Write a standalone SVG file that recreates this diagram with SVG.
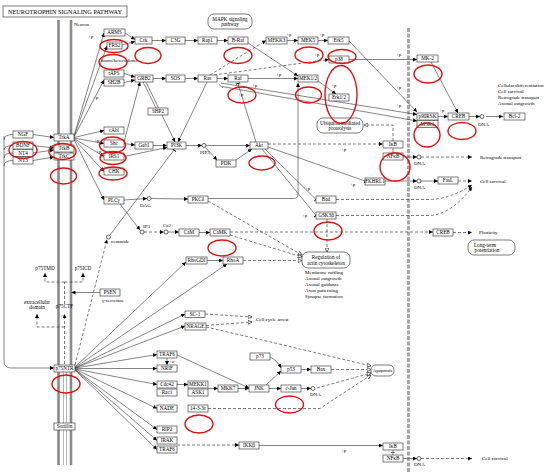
<svg xmlns="http://www.w3.org/2000/svg" width="550" height="473" viewBox="0 0 550 473">
<defs>
<marker id="a" viewBox="0 0 6 6" refX="6" refY="3" markerWidth="4" markerHeight="4" orient="auto" markerUnits="userSpaceOnUse"><path d="M0,0L6,3L0,6z" fill="#000"/></marker>
<marker id="o" viewBox="0 0 8 8" refX="7.5" refY="4" markerWidth="4.5" markerHeight="4.5" orient="auto" markerUnits="userSpaceOnUse"><path d="M0.5,0.5L7.5,4L0.5,7.5z" fill="#fff" stroke="#000" stroke-width="1"/></marker>
<marker id="b" viewBox="0 0 2 8" refX="1" refY="4" markerWidth="1.5" markerHeight="5" orient="auto" markerUnits="userSpaceOnUse"><path d="M1,0L1,8" stroke="#000" stroke-width="1.5"/></marker>
</defs>
<style>
.n rect{fill:#fff;stroke:#444;stroke-width:0.7}
.n text,.t{font-family:"Liberation Serif",serif;font-size:5.2px;text-anchor:middle;fill:#000}
.l{font-family:"Liberation Serif",serif;font-size:5px;fill:#000}
.c path{fill:none;stroke:#333;stroke-width:0.6}
.c .d{stroke-dasharray:3 2;stroke:#444;stroke-width:0.7}
.a{marker-end:url(#a)}
.o{marker-end:url(#o)}
.b{marker-end:url(#b)}
.r ellipse{fill:none;stroke:#e01010;stroke-width:1.4}
.cir{fill:#fff;stroke:#000;stroke-width:0.6}
</style>
<rect width="550" height="473" fill="#fff"/>
<!-- title -->
<g id="title"><rect x="3" y="6" width="124" height="11" fill="#fff" stroke="#444" stroke-width="0.7"/><text x="65" y="14.3" font-family="Liberation Serif,serif" font-size="6.8" text-anchor="middle" textLength="114" lengthAdjust="spacingAndGlyphs">NEUROTROPHIN SIGNALING PATHWAY</text></g>
<!-- membranes -->
<g id="membrane">
<path d="M58.5,20V465M71,20V465" stroke="#8a8a8a" stroke-width="2.6" fill="none"/>
<path d="M63.5,372V465M66.5,372V465" stroke="#666" stroke-width="0.5" fill="none"/>
<path d="M408.5,28V472" stroke="#a8a8a8" stroke-width="3" stroke-dasharray="4 1.5" fill="none"/>
<text class="l" x="74" y="26">Neuron</text>
</g>
<!-- connectors -->
<g id="connectors" class="c">
<path d="M13,134.5Q4,134.5 4,140M13,145.5Q4,145.5 4,150M13,153Q4,153 4,158M13,160.5Q4,160.5 4,166"/>
<path class="a" d="M4,136V361Q4,368 11,368H54"/>
<path class="a" d="M33,134.5L54,137.5"/>
<path class="a" d="M33,145.5L54,148"/>
<path class="a" d="M33,153L54,150"/>
<path class="a" d="M33,160.5L54,157"/>
<path class="a" d="M74,136L104,33"/>
<path class="a" d="M74,136.5L107,46"/>
<path class="a" d="M74,137L104,80"/>
<path class="a" d="M74,137.5L104,130.5"/>
<path class="a" d="M74,138L104,143.5"/>
<path class="a" d="M74,138.5L104,156.5"/>
<path class="a" d="M74,139L104,171.5"/>
<path class="a" d="M74,139.5L104,200"/>
<path class="a" d="M125,33L135,39.5"/>
<path class="a" d="M122,45L135,41.5"/>
<path class="a" d="M152,40.5H166"/>
<path class="a" d="M185,40.5H198"/>
<path class="a" d="M217,40.5H228"/>
<path class="a" d="M124,73.5L135,77"/>
<path class="a" d="M124,82.5L135,80"/>
<path class="a" d="M153,78.5H166"/>
<path class="a" d="M185,78.5H198"/>
<path class="a" d="M217,78.5H228"/>
<path class="a" d="M124,142L140,82"/>
<path d="M143,82L156,108"/>
<path class="a" d="M146,82L175,142"/>
<path class="a" d="M207,82L178,142"/>
<path class="a" d="M124,143.5L135,145"/>
<path class="a" d="M124,156.5L167,147.5"/>
<path class="a" d="M153,145.5H167"/>
<path class="a" d="M186,145.5H202"/>
<path class="a" d="M206,145.5H250"/>
<path class="a" d="M205.5,147.5L217,160"/>
<path class="a" d="M236,160L252,149"/>
<path class="b" d="M256,142L238,83.5"/>
<path class="d a" d="M210,75L266,40.5"/>
<path class="d a" d="M214,75L329,59.5"/>
<path class="a" d="M248,43L298,76"/>
<path class="a" d="M248,78.5H298"/>
<path class="a" d="M287,40.5H298"/>
<path class="a" d="M318,40.5H328"/>
<path class="a" d="M318,81L336,94"/>
<path class="a" d="M349,41L417,112"/>
<path class="a" d="M349,59.5H417"/>
<path class="a" d="M431,62L458,113"/>
<path class="a" d="M221,83L417,114.5"/>
<path class="a" d="M222,86.5L417,121"/>
<path d="M219,84.5L223,88"/>
<path class="a" d="M438,116.5H448"/>
<path class="a" d="M469,116.5H480"/>
<path class="a" d="M486,116.5H503"/>
<path class="d o" d="M393,141V125H364"/>
<path class="d a" d="M268,144H383"/>
<path class="b" d="M268,147L365,181"/>
<path class="b" d="M265,149L316,199.5"/>
<path class="b" d="M262,149L316,215.5"/>
<path d="M393,148V153"/>
<path class="a" d="M403,157H417"/>
<path class="d a" d="M421,157H472"/>
<path class="a" d="M385,181H417"/>
<path class="a" d="M421,181H438"/>
<path class="d a" d="M458,181H472"/>
<path class="d a" d="M336,199.5H430Q450,199 472,185"/>
<path class="d a" d="M336,215.5H430Q452,214 472,187"/>
<path class="d o" d="M327,219V252"/>
<path class="a" d="M208,198.5H294Q298,198.5 298,194V83"/>
<path class="a" d="M124,200L147,198.5"/>
<path class="a" d="M151,198.5L188,199"/>
<path class="a" d="M120,204L140,230"/>
<path class="d a" d="M144,232H164"/>
<path class="a" d="M168,232H179"/>
<path class="a" d="M199,232.5H210"/>
<path class="d a" d="M230,232H433"/>
<path class="d o" d="M230,235L302,257"/>
<path class="d o" d="M208,201L302,255"/>
<path class="d o" d="M243,260.5H302"/>
<path class="a" d="M207,260.5H223"/>
<path class="d a" d="M453,232.5H472"/>
<path class="d a" d="M75,365L107,239.5"/>
<path class="b" d="M110,235L174,150"/>
<path class="a" d="M100,292.5H71.5"/>
<path class="d a" d="M64.5,364V314"/>
<path class="d a" d="M64.5,327H37V314"/>
<path class="d" d="M64.5,304V282"/>
<path class="d a" d="M64.5,282H45V273"/>
<path class="d a" d="M64.5,282H83V273"/>
<path class="a" d="M75,367L186,262"/>
<path class="a" d="M75,367.5L227,264"/>
<path class="a" d="M75,368L185,314"/>
<path class="a" d="M75,368L185,326"/>
<path class="a" d="M75,368L157,354.5"/>
<path class="a" d="M75,368.5L157,368.5"/>
<path class="a" d="M75,369L157,384.5"/>
<path class="a" d="M75,369L157,408.5"/>
<path class="a" d="M75,369.5L157,429.5"/>
<path class="a" d="M75,369.5L157,440.5"/>
<path class="a" d="M75,370L157,449.5"/>
<path class="a" d="M167,358V365"/>
<path class="a" d="M177,355L249,388"/>
<path class="a" d="M177,384.5H188"/>
<path class="a" d="M208,388.5H218"/>
<path class="a" d="M238,388.5H249"/>
<path class="a" d="M269,388.5H281"/>
<path class="a" d="M266,385L281,371"/>
<path class="a" d="M270,357Q277,360 281,368"/>
<path class="a" d="M301,369.5H311"/>
<path class="a" d="M301,388.5H311"/>
<path class="d o" d="M331,369.5H371"/>
<path class="d o" d="M317,388L371,373"/>
<path class="d o" d="M206,327L275,343L371,366"/>
<path class="d o" d="M208,408.5H320L371,375"/>
<path class="d o" d="M205,314L252,317"/>
<path class="d o" d="M206,325.5L252,322"/>
<path class="d a" d="M177,445H239"/>
<path class="a" d="M259,445.5H383"/>
<path d="M393,450V455M391,452.5H395"/>
<path class="a" d="M403,458.5H417"/>
<path class="d a" d="M421,458.5H472"/>
</g>
<!-- small circles -->
<g id="circles">
<circle class="cir" cx="204" cy="145.5" r="2"/>
<circle class="cir" cx="149" cy="198.5" r="2"/>
<circle class="cir" cx="142" cy="232" r="2"/>
<circle class="cir" cx="166" cy="232" r="2"/>
<circle class="cir" cx="108.5" cy="237" r="2"/>
<circle class="cir" cx="482" cy="116.5" r="2"/>
<circle class="cir" cx="419" cy="157" r="2"/>
<circle class="cir" cx="419" cy="181" r="2"/>
<circle class="cir" cx="313" cy="388.5" r="2"/>
<circle class="cir" cx="419" cy="458.5" r="2"/>
</g>
<!-- labels -->
<g id="labels">
<text class="l" x="88" y="38">+p</text>
<text class="l" x="93" y="99">+p</text>
<text class="l" x="94" y="142">+p</text>
<text class="l" x="96" y="153">+p</text>
<text class="l" x="286" y="36">+p</text>
<text class="l" x="319" y="36">+p</text>
<text class="l" x="314" y="56">+p</text>
<text class="l" x="276" y="76">+p</text>
<text class="l" x="331" y="87">+p</text>
<text class="l" x="396" y="56">+p</text>
<text class="l" x="396" y="89">+p</text>
<text class="l" x="396" y="107">+p</text>
<text class="l" x="439" y="112">+p</text>
<text class="l" x="252" y="87">+p</text>
<text class="l" x="238" y="96">+p</text>
<text class="l" x="341" y="151">+p</text>
<text class="l" x="350" y="186">+p</text>
<text class="l" x="305" y="190">+p</text>
<text class="l" x="302" y="217">+p</text>
<text class="l" x="341" y="452">+p</text>
<text class="l" x="169" y="363">+u</text>
<text class="l" x="200" y="154">PIP3</text>
<text class="l" x="140" y="207">DAG</text>
<text class="l" x="143" y="228">IP3</text>
<text class="l" x="163" y="227">Ca2+</text>
<text class="l" x="111" y="243">ceramide</text>
<text class="l" x="478" y="126">DNA</text>
<text class="l" x="414" y="165">DNA</text>
<text class="l" x="414" y="189">DNA</text>
<text class="l" x="310" y="396">DNA</text>
<text class="l" x="414" y="466">DNA</text>
<text class="l" x="101" y="62">homo/heterodimer</text>
<text class="l" x="498" y="87">Cellular differentiation</text>
<text class="l" x="498" y="93">Cell survival</text>
<text class="l" x="498" y="99">Retrograde transport</text>
<text class="l" x="498" y="105">Axonal outgrowth</text>
<text class="l" x="480" y="159">Retrograde transport</text>
<text class="l" x="480" y="183">Cell survival</text>
<text class="l" x="479" y="234">Plasticity</text>
<text class="l" x="482" y="460">Cell survival</text>
<text class="l" x="256" y="321">Cell cycle arrest</text>
<text class="l" x="305" y="274">Membrane ruffling</text>
<text class="l" x="305" y="280">Axonal outgrowth</text>
<text class="l" x="305" y="286">Axonal guidance</text>
<text class="l" x="305" y="292">Axon patterning</text>
<text class="l" x="305" y="298">Synapse formation</text>
<text class="t" x="45" y="270">p75TMD</text>
<text class="t" x="83" y="270">p75ICD</text>
<text class="l" x="102" y="302">γ-secretase</text>
<text class="t" x="37" y="304">extracellular</text>
<text class="t" x="37" y="309">domain</text>
<text class="t" x="64.5" y="308">p75CTF</text>
</g>
<!-- nodes -->
<g id="ARMS" class="n"><rect x="104" y="29" width="21" height="7"/><text x="114.5" y="34.3">ARMS</text></g>
<g id="FRS2" class="n"><rect x="107" y="42" width="15" height="7"/><text x="114.5" y="47.3">FRS2</text></g>
<g id="rAPS" class="n"><rect x="104" y="70" width="20" height="7"/><text x="114" y="75.3">rAPS</text></g>
<g id="SH2B" class="n"><rect x="104" y="79" width="20" height="7"/><text x="114" y="84.3">SH2B</text></g>
<g id="cAbl" class="n"><rect x="104" y="127" width="20" height="7"/><text x="114" y="132.3">cAbl</text></g>
<g id="Shc" class="n"><rect x="104" y="140" width="20" height="7"/><text x="114" y="145.3">Shc</text></g>
<g id="IRS1" class="n"><rect x="104" y="153" width="20" height="7"/><text x="114" y="158.3">IRS1</text></g>
<g id="CHK" class="n"><rect x="104" y="168" width="20" height="7"/><text x="114" y="173.3">CHK</text></g>
<g id="PLCg" class="n"><rect x="104" y="197" width="20" height="7"/><text x="114" y="202.3">PLCγ</text></g>
<g id="NGF" class="n"><rect x="13" y="131" width="20" height="7"/><text x="23" y="136.3">NGF</text></g>
<g id="BDNF" class="n"><rect x="13" y="142" width="20" height="7"/><text x="23" y="147.3">BDNF</text></g>
<g id="NT4" class="n"><rect x="13" y="149.5" width="20" height="7"/><text x="23" y="154.8">NT4</text></g>
<g id="NT3" class="n"><rect x="13" y="157" width="20" height="7"/><text x="23" y="162.3">NT3</text></g>
<g id="TrkA" class="n"><rect x="54" y="134" width="20" height="7"/><text x="64" y="139.3">TrkA</text></g>
<g id="TrkB" class="n"><rect x="54" y="145" width="20" height="7"/><text x="64" y="150.3">TrkB</text></g>
<g id="TrkC" class="n"><rect x="54" y="153" width="20" height="7"/><text x="64" y="158.3">TrkC</text></g>
<g id="Crk" class="n"><rect x="135" y="37" width="17" height="7"/><text x="143.5" y="42.3">Crk</text></g>
<g id="C3G" class="n"><rect x="166" y="37" width="19" height="7"/><text x="175.5" y="42.3">C3G</text></g>
<g id="Rap1" class="n"><rect x="198" y="37" width="19" height="7"/><text x="207.5" y="42.3">Rap1</text></g>
<g id="B-Raf" class="n"><rect x="228" y="37" width="20" height="7"/><text x="238" y="42.3">B-Raf</text></g>
<g id="MEKK3" class="n"><rect x="266" y="37" width="21" height="7"/><text x="276.5" y="42.3">MEKK3</text></g>
<g id="MEK5" class="n"><rect x="298" y="37" width="20" height="7"/><text x="308" y="42.3">MEK5</text></g>
<g id="Erk5" class="n"><rect x="328" y="37" width="21" height="7"/><text x="338.5" y="42.3">Erk5</text></g>
<g id="GRB2" class="n"><rect x="135" y="75" width="18" height="7"/><text x="144" y="80.3">GRB2</text></g>
<g id="SOS" class="n"><rect x="166" y="75" width="19" height="7"/><text x="175.5" y="80.3">SOS</text></g>
<g id="Ras" class="n"><rect x="198" y="75" width="19" height="7"/><text x="207.5" y="80.3">Ras</text></g>
<g id="Raf" class="n"><rect x="228" y="75" width="20" height="7"/><text x="238" y="80.3">Raf</text></g>
<g id="MEK12" class="n"><rect x="298" y="75" width="20" height="7"/><text x="308" y="80.3">MEK1/2</text></g>
<g id="p38" class="n"><rect x="329" y="56" width="20" height="7"/><text x="339" y="61.3">p38</text></g>
<g id="Erk12" class="n"><rect x="329" y="94" width="20" height="7"/><text x="339" y="99.3">Erk1/2</text></g>
<g id="SHP2" class="n"><rect x="148" y="108" width="20" height="7"/><text x="158" y="113.3">SHP2</text></g>
<g id="Gab1" class="n"><rect x="135" y="142" width="18" height="7"/><text x="144" y="147.3">Gab1</text></g>
<g id="PI3K" class="n"><rect x="167" y="142" width="19" height="7"/><text x="176.5" y="147.3">PI3K</text></g>
<g id="Akt" class="n"><rect x="250" y="142" width="18" height="7"/><text x="259" y="147.3">Akt</text></g>
<g id="PDK" class="n"><rect x="216" y="160" width="20" height="7"/><text x="226" y="165.3">PDK</text></g>
<g id="IkB" class="n"><rect x="383" y="141" width="20" height="7"/><text x="393" y="146.3">IκB</text></g>
<g id="NFkB" class="n"><rect x="383" y="153" width="20" height="7"/><text x="393" y="158.3">NFκB</text></g>
<g id="MK2" class="n"><rect x="417" y="55" width="21" height="7"/><text x="427.5" y="60.3">MK-2</text></g>
<g id="p90RSK" class="n"><rect x="417" y="113" width="21" height="7"/><text x="427.5" y="118.3">p90RSK</text></g>
<g id="MSK1" class="n"><rect x="417" y="120.5" width="21" height="7"/><text x="427.5" y="125.8">MSK1</text></g>
<g id="CREB" class="n"><rect x="448" y="113" width="21" height="7"/><text x="458.5" y="118.3">CREB</text></g>
<g id="Bcl2" class="n"><rect x="504" y="113" width="21" height="7"/><text x="514.5" y="118.3">Bcl-2</text></g>
<g id="PKCd" class="n"><rect x="188" y="196" width="20" height="7"/><text x="198" y="201.3">PKCδ</text></g>
<g id="CaM" class="n"><rect x="179" y="229" width="20" height="7"/><text x="189" y="234.3">CaM</text></g>
<g id="CaMK" class="n"><rect x="210" y="229" width="20" height="7"/><text x="220" y="234.3">CaMK</text></g>
<g id="RhoGDI" class="n"><rect x="186" y="257" width="21" height="7"/><text x="196.5" y="262.3">RhoGDI</text></g>
<g id="RhoA" class="n"><rect x="223" y="257" width="20" height="7"/><text x="233" y="262.3">RhoA</text></g>
<g id="Bad" class="n"><rect x="316" y="196" width="20" height="7"/><text x="326" y="201.3">Bad</text></g>
<g id="GSK3b" class="n"><rect x="316" y="212" width="20" height="7"/><text x="326" y="217.3">GSK3β</text></g>
<g id="FKHRL1" class="n"><rect x="365" y="178" width="20" height="7"/><text x="375" y="183.3">FKHRL1</text></g>
<g id="FasL" class="n"><rect x="438" y="177" width="20" height="7"/><text x="448" y="182.3">FasL</text></g>
<g id="CREB2" class="n"><rect x="433" y="229" width="20" height="7"/><text x="443" y="234.3">CREB</text></g>
<g id="PSEN" class="n"><rect x="100" y="289" width="20" height="7"/><text x="110" y="294.3">PSEN</text></g>
<g id="p75NTR" class="n"><rect x="54" y="365" width="21" height="7"/><text x="64.5" y="370.3">p75NTR</text></g>
<g id="Sortilin" class="n"><rect x="54" y="423" width="21" height="7"/><text x="64.5" y="428.3">Sortilin</text></g>
<g id="SC1" class="n"><rect x="185" y="311" width="20" height="6.5"/><text x="195" y="316">SC-1</text></g>
<g id="NRAGE" class="n"><rect x="185" y="323" width="21" height="7"/><text x="195.5" y="328.3">NRAGE</text></g>
<g id="TRAF6" class="n"><rect x="157" y="351" width="20" height="7"/><text x="167" y="356.3">TRAF6</text></g>
<g id="NRIF" class="n"><rect x="157" y="365" width="20" height="7"/><text x="167" y="370.3">NRIF</text></g>
<g id="Cdc42" class="n"><rect x="157" y="381" width="20" height="7"/><text x="167" y="386.3">Cdc42</text></g>
<g id="Rac1" class="n"><rect x="157" y="389" width="20" height="7"/><text x="167" y="394.3">Rac1</text></g>
<g id="MEKK1" class="n"><rect x="188" y="381" width="20" height="7"/><text x="198" y="386.3">MEKK1</text></g>
<g id="ASK1" class="n"><rect x="188" y="389" width="20" height="7"/><text x="198" y="394.3">ASK1</text></g>
<g id="MKK7" class="n"><rect x="218" y="385" width="20" height="7"/><text x="228" y="390.3">MKK7</text></g>
<g id="JNK" class="n"><rect x="249" y="385" width="20" height="7"/><text x="259" y="390.3">JNK</text></g>
<g id="p73" class="n"><rect x="250" y="353" width="20" height="7"/><text x="260" y="358.3">p73</text></g>
<g id="p53" class="n"><rect x="281" y="366" width="20" height="7"/><text x="291" y="371.3">p53</text></g>
<g id="Bax" class="n"><rect x="311" y="366" width="20" height="7"/><text x="321" y="371.3">Bax</text></g>
<g id="cJun" class="n"><rect x="281" y="385" width="20" height="7"/><text x="291" y="390.3">c-Jun</text></g>
<g id="NADE" class="n"><rect x="157" y="405" width="20" height="7"/><text x="167" y="410.3">NADE</text></g>
<g id="p1433" class="n"><rect x="188" y="405" width="20" height="7"/><text x="198" y="410.3">14-3-3ε</text></g>
<g id="RIP2" class="n"><rect x="157" y="426" width="20" height="7"/><text x="167" y="431.3">RIP2</text></g>
<g id="IRAK" class="n"><rect x="157" y="437" width="20" height="7"/><text x="167" y="442.3">IRAK</text></g>
<g id="TRAF6b" class="n"><rect x="157" y="446" width="20" height="7"/><text x="167" y="451.3">TRAF6</text></g>
<g id="IKKb" class="n"><rect x="239" y="442" width="20" height="7"/><text x="249" y="447.3">IKKβ</text></g>
<g id="IkB2" class="n"><rect x="383" y="443" width="20" height="7"/><text x="393" y="448.3">IκB</text></g>
<g id="NFkB2" class="n"><rect x="383" y="455" width="20" height="7"/><text x="393" y="460.3">NFκB</text></g>
<g id="MAPK" class="n"><rect x="208" y="14" width="44" height="15" rx="6"/><text x="230" y="20.5">MAPK signaling</text><text x="230" y="26">pathway</text></g>
<g id="Ubiq" class="n"><rect x="317" y="118" width="46" height="15" rx="6"/><text x="340" y="124.5">Ubiquitin mediated</text><text x="340" y="130">proteolysis</text></g>
<g id="RegActin" class="n"><rect x="302" y="252" width="48" height="16" rx="6"/><text x="326" y="259">Regulation of</text><text x="326" y="265">actin cytoskeleton</text></g>
<g id="LTP" class="n"><rect x="468" y="240" width="47" height="15" rx="6"/><text x="485" y="246.5">Long-term</text><text x="487" y="252">potentiation</text></g>
<g id="Apoptosis" class="n"><rect x="371" y="365" width="23" height="11" rx="5"/><text x="382.5" y="372.3" style="font-size:4.8px">Apoptosis</text></g>
<!-- red ellipses -->
<g id="highlights" class="r">
<ellipse cx="114" cy="46" rx="14" ry="6.5"/>
<ellipse cx="113" cy="62" rx="14" ry="7.5"/>
<ellipse cx="23" cy="150" rx="14" ry="8.5"/>
<ellipse cx="62.5" cy="151.5" rx="13.5" ry="8"/>
<ellipse cx="63.5" cy="176" rx="13" ry="8"/>
<ellipse cx="112.5" cy="145" rx="13" ry="8"/>
<ellipse cx="113" cy="158" rx="13" ry="6.5"/>
<ellipse cx="113" cy="173.5" rx="14" ry="6.5"/>
<ellipse cx="148" cy="55.5" rx="13" ry="8"/>
<ellipse cx="238" cy="55.5" rx="14" ry="8"/>
<ellipse cx="242" cy="95" rx="14" ry="8"/>
<ellipse cx="262" cy="163" rx="13" ry="7"/>
<ellipse cx="309" cy="55" rx="14" ry="8"/>
<ellipse cx="342" cy="56.5" rx="14" ry="7"/>
<ellipse cx="341" cy="94.5" rx="16" ry="29"/>
<ellipse cx="308.5" cy="95" rx="13" ry="8"/>
<ellipse cx="395" cy="167" rx="15" ry="14"/>
<ellipse cx="428" cy="74" rx="14" ry="9"/>
<ellipse cx="427" cy="135" rx="13" ry="12"/>
<ellipse cx="462" cy="131" rx="14" ry="8.5"/>
<ellipse cx="222" cy="248" rx="14" ry="8"/>
<ellipse cx="328" cy="231" rx="14" ry="9"/>
<ellipse cx="66" cy="384" rx="14" ry="9"/>
<ellipse cx="199" cy="424" rx="14" ry="9"/>
<ellipse cx="289.5" cy="404.5" rx="14" ry="8.5"/>
</g>
</svg>
